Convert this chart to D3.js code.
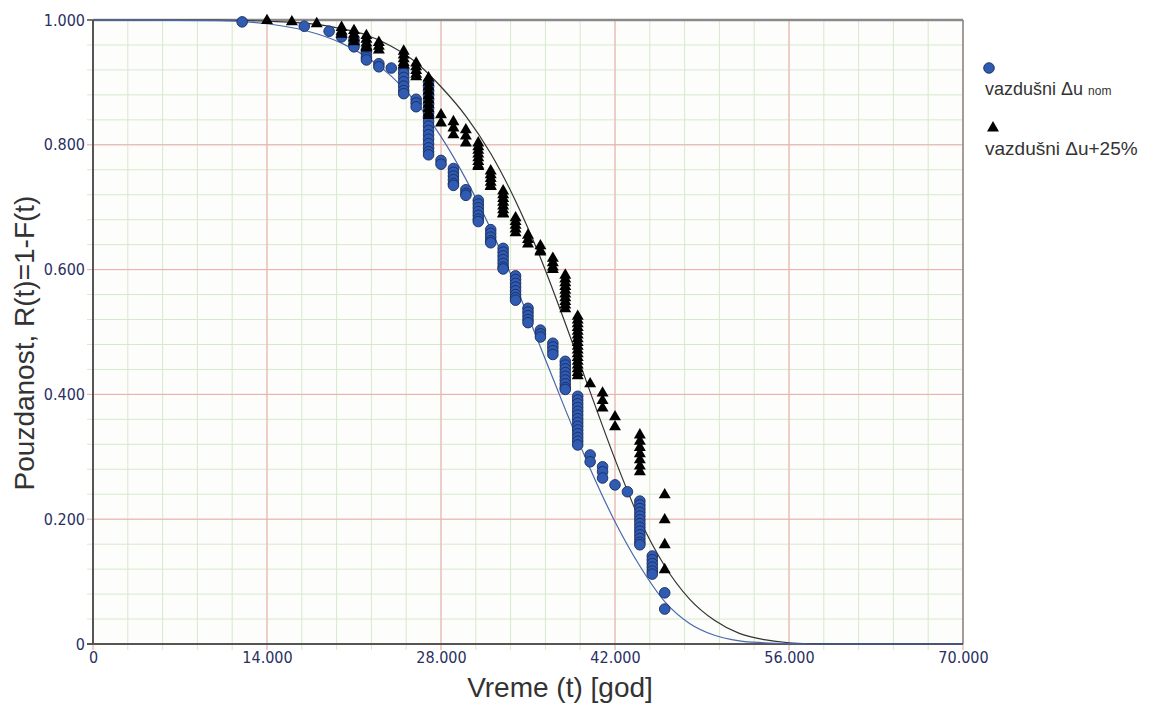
<!DOCTYPE html>
<html>
<head>
<meta charset="utf-8">
<script src="https://cdn.jsdelivr.net/npm/d3@7"></script>
<style>
  html, body { margin: 0; padding: 0; background: #ffffff; }
  svg { display: block; }
</style>
</head>
<body>
<svg id="chart" width="1151" height="705"></svg>
<script>
// ---------- DATA ----------
const xTickValues = [0, 14000, 28000, 42000, 56000, 70000];
const xTickLabels = ["0", "14.000", "28.000", "42.000", "56.000", "70.000"];
const yTickValues = [0, 0.2, 0.4, 0.6, 0.8, 1.0];
const yTickLabels = ["0", "0.200", "0.400", "0.600", "0.800", "1.000"];

const legendLabels = ["vazdušni \u0394u", "vazdušni \u0394u+25%"];
const legendSub = "nom";
const xTitle = "Vreme (t) [god]";
const yTitle = "Pouzdanost, R(t)=1-F(t)";

// series "vazdušni Δu nom" (blue circles): time columns and R values at each
const nomTimes = [12000,17000,19000,20000,21000,22000,23000,24000,25000,26000,27000,28000,29000,30000,31000,32000,33000,34000,35000,36000,37000,38000,39000,40000,41000,42000,43000,44000,45000,46000];
const nomValues = [
  [0.997],
  [0.990],
  [0.982],
  [0.973],
  [0.968,0.962,0.957],
  [0.952,0.946,0.940,0.936],
  [0.930,0.925],
  [0.923],
  [0.922,0.915,0.908,0.901,0.894,0.887,0.882],
  [0.873,0.867,0.861],
  [0.900,0.893,0.886,0.879,0.872,0.865,0.858,0.851,0.844,0.837,0.830,0.823,0.816,0.809,0.802,0.795,0.789,0.784],
  [0.775,0.769],
  [0.762,0.756,0.750,0.744,0.738,0.735],
  [0.728,0.722,0.719],
  [0.711,0.705,0.699,0.693,0.687,0.681,0.677],
  [0.664,0.658,0.652,0.646,0.643],
  [0.634,0.628,0.622,0.616,0.610,0.604,0.601],
  [0.590,0.584,0.578,0.572,0.566,0.560,0.555,0.551],
  [0.538,0.532,0.526,0.520,0.515],
  [0.503,0.497,0.492],
  [0.482,0.476,0.470,0.464],
  [0.453,0.447,0.441,0.435,0.429,0.423,0.417,0.411,0.408],
  [0.397,0.391,0.385,0.379,0.373,0.367,0.361,0.355,0.349,0.343,0.337,0.331,0.325,0.319],
  [0.303,0.292],
  [0.284,0.276,0.266],
  [0.255],
  [0.244],
  [0.229,0.223,0.217,0.211,0.205,0.199,0.193,0.187,0.181,0.175,0.169,0.163,0.159],
  [0.141,0.135,0.129,0.123,0.117,0.112],
  [0.082,0.056]
];

// series "vazdušni Δu+25%" (black triangles)
const plusTimes = [14000,16000,18000,20000,21000,22000,23000,25000,26000,27000,28000,29000,30000,31000,32000,33000,34000,35000,36000,37000,38000,39000,40000,41000,42000,44000,46000];
const plusValues = [
  [0.999],
  [0.997],
  [0.994],
  [0.988,0.982,0.977],
  [0.983,0.977,0.971,0.965],
  [0.975,0.969,0.963,0.957,0.955],
  [0.964,0.958,0.952],
  [0.950,0.944,0.938,0.932,0.928],
  [0.931,0.925,0.919,0.913,0.909],
  [0.907,0.900,0.893,0.886,0.879,0.872,0.865,0.858,0.851,0.847],
  [0.848,0.835],
  [0.837,0.827,0.816],
  [0.824,0.814,0.803],
  [0.803,0.797,0.791,0.785,0.779,0.773,0.767,0.765],
  [0.758,0.752,0.746,0.740,0.734,0.733],
  [0.726,0.720,0.714,0.708,0.702,0.696,0.690,0.689],
  [0.683,0.677,0.671,0.665,0.659],
  [0.655,0.648,0.641],
  [0.638,0.630,0.628],
  [0.618,0.611,0.604,0.600],
  [0.591,0.585,0.579,0.573,0.567,0.561,0.555,0.549,0.543,0.537],
  [0.525,0.519,0.513,0.507,0.501,0.495,0.489,0.483,0.477,0.471,0.465,0.459,0.453,0.447,0.441,0.435,0.430],
  [0.417],
  [0.402,0.390,0.378],
  [0.364,0.348],
  [0.335,0.325,0.315,0.305,0.295,0.285,0.276],
  [0.239,0.199,0.159,0.119]
];

// fitted reliability curves
const curveTimes = [0,10000,14000,18000,20000,22000,24000,26000,28000,30000,32000,34000,36000,38000,40000,42000,44000,46000,48000,50000,52000,54000,56000,58000,60000,70000];
const nomCurve  = [1,0.999,0.994,0.978,0.963,0.941,0.910,0.868,0.813,0.745,0.665,0.574,0.476,0.376,0.281,0.196,0.125,0.068,0.033,0.014,0.005,0.002,0.0005,0,0,0];
const plusCurve = [1,1,0.998,0.993,0.986,0.976,0.958,0.932,0.893,0.846,0.786,0.710,0.619,0.514,0.404,0.296,0.199,0.125,0.072,0.038,0.017,0.007,0.002,0.0005,0,0];

// ---------- LAYOUT ----------
const svg = d3.select("#chart");
const L = 93, R = 963, T = 20, B = 644;
const x = d3.scaleLinear().domain([0, 70000]).range([L, R]);
const y = d3.scaleLinear().domain([0, 1]).range([B, T]);

const tickFont = "'DejaVu Sans Condensed', 'DejaVu Sans', sans-serif";
const textFont = "'Liberation Sans', Arial, sans-serif";

// plot background
svg.append("rect").attr("x", L).attr("y", T).attr("width", R - L).attr("height", B - T).attr("fill", "#fdfdfb");

// grid
const minorX = d3.range(0, 70001, 2800);
const minorY = d3.range(0, 1.0001, 0.04);
const majorX = d3.range(0, 70001, 14000);
const majorY = d3.range(0, 1.0001, 0.2);
const grid = svg.append("g");
grid.selectAll(".mx").data(minorX).join("line")
  .attr("x1", d => x(d)).attr("x2", d => x(d)).attr("y1", T).attr("y2", B + 6)
  .attr("stroke", "#d6e9cc").attr("stroke-width", 1);
grid.selectAll(".my").data(minorY).join("line")
  .attr("y1", d => y(d)).attr("y2", d => y(d)).attr("x1", L - 6).attr("x2", R)
  .attr("stroke", "#d6e9cc").attr("stroke-width", 1);
grid.selectAll(".Mx").data(majorX).join("line")
  .attr("x1", d => x(d)).attr("x2", d => x(d)).attr("y1", T).attr("y2", B + 6)
  .attr("stroke", "#f2aaaa").attr("stroke-width", 1);
grid.selectAll(".My").data(majorY).join("line")
  .attr("y1", d => y(d)).attr("y2", d => y(d)).attr("x1", L - 6).attr("x2", R)
  .attr("stroke", "#f2aaaa").attr("stroke-width", 1);

// frame
svg.append("line").attr("x1", L).attr("x2", R).attr("y1", T).attr("y2", T).attr("stroke", "#8a8a8a").attr("stroke-width", 2.5);
svg.append("line").attr("x1", R).attr("x2", R).attr("y1", T).attr("y2", B).attr("stroke", "#8a8a8a").attr("stroke-width", 1.5);

// axes
const xAxis = d3.axisBottom(x).tickValues(xTickValues).tickFormat((d, i) => xTickLabels[i]).tickSize(0).tickPadding(8);
const yAxis = d3.axisLeft(y).tickValues(yTickValues).tickFormat((d, i) => yTickLabels[i]).tickSize(0).tickPadding(8);
const gx = svg.append("g").attr("transform", `translate(0,${B})`).call(xAxis);
const gy = svg.append("g").attr("transform", `translate(${L},0)`).call(yAxis);
[gx, gy].forEach(g => {
  g.select(".domain").remove();
  g.selectAll("text").attr("font-family", tickFont).attr("font-size", 16).attr("fill", "#2a2f62");
});
svg.append("line").attr("x1", L).attr("x2", L).attr("y1", T).attr("y2", B + 1).attr("stroke", "#555").attr("stroke-width", 2);
svg.append("line").attr("x1", L - 6).attr("x2", R).attr("y1", B).attr("y2", B).attr("stroke", "#555").attr("stroke-width", 2);
svg.append("line").attr("x1", L - 6).attr("x2", L).attr("y1", T).attr("y2", T).attr("stroke", "#555").attr("stroke-width", 1.5);

// curves
const line = d3.line().x((d, i) => x(curveTimes[i])).y(d => y(d)).curve(d3.curveMonotoneX);
svg.append("path").datum(plusCurve).attr("d", line).attr("fill", "none").attr("stroke", "#333").attr("stroke-width", 1.2);
svg.append("path").datum(nomCurve).attr("d", line).attr("fill", "none").attr("stroke", "#4a68ad").attr("stroke-width", 1.2);

// points
const nomPts = nomTimes.flatMap((t, i) => nomValues[i].map(v => [t, v]));
const plusPts = plusTimes.flatMap((t, i) => plusValues[i].map(v => [t, v]));

svg.append("g").selectAll("circle").data(nomPts).join("circle")
  .attr("cx", d => x(d[0])).attr("cy", d => y(d[1])).attr("r", 5.3)
  .attr("fill", "#2f5bb3").attr("stroke", "#1b2c5e").attr("stroke-width", 0.9);

const tri = d3.symbol().type(d3.symbolTriangle).size(62);
svg.append("g").selectAll("path").data(plusPts).join("path")
  .attr("transform", d => `translate(${x(d[0])},${y(d[1])})`)
  .attr("d", tri).attr("fill", "#000");

// axis titles
svg.append("text").attr("x", 560).attr("y", 697).attr("text-anchor", "middle")
  .attr("font-family", textFont).attr("font-size", 28).attr("fill", "#333").text(xTitle);
svg.append("text").attr("transform", "translate(34,343) rotate(-90)").attr("text-anchor", "middle")
  .attr("font-family", textFont).attr("font-size", 28).attr("fill", "#333").text(yTitle);

// legend
const lg = svg.append("g");
lg.append("circle").attr("cx", 989).attr("cy", 68).attr("r", 5.3).attr("fill", "#2f5bb3").attr("stroke", "#1b2c5e").attr("stroke-width", 0.9);
const t1 = lg.append("text").attr("x", 985).attr("y", 95).attr("font-family", textFont).attr("font-size", 18).attr("fill", "#333");
t1.append("tspan").text(legendLabels[0] + " ");
t1.append("tspan").attr("font-size", 12).text(legendSub);
lg.append("path").attr("transform", "translate(993,128)").attr("d", tri).attr("fill", "#000");
lg.append("text").attr("x", 985).attr("y", 155).attr("font-family", textFont).attr("font-size", 19).attr("fill", "#333").text(legendLabels[1]);
</script>
</body>
</html>
